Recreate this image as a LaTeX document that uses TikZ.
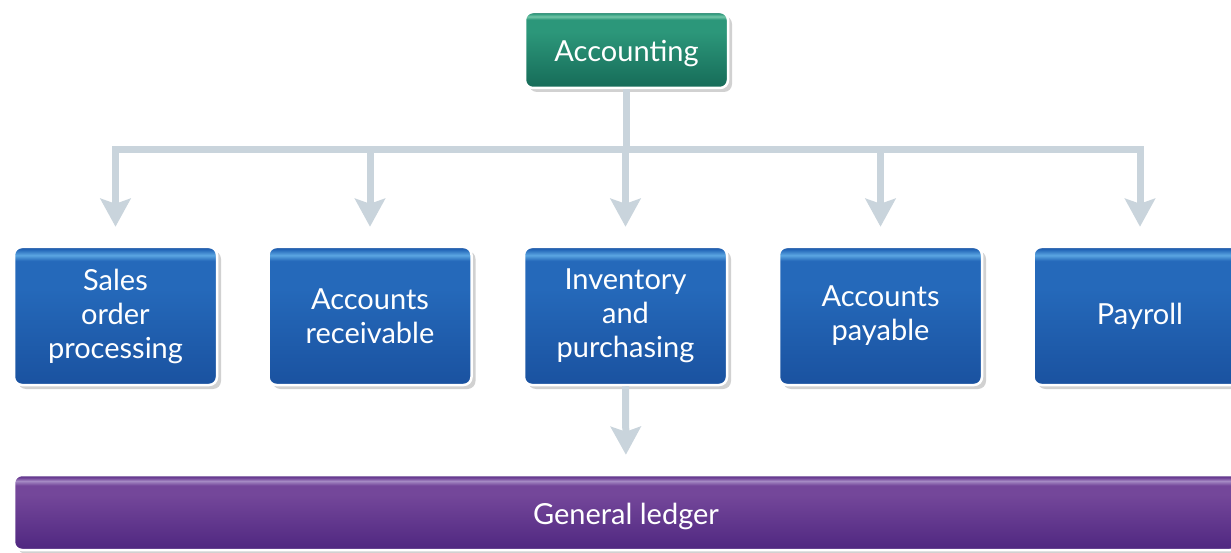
\documentclass[tikz,border=0pt]{standalone}
\usepackage{fontspec}
\setmainfont{Lato}
\usetikzlibrary{arrows.meta,shadows}
\definecolor{linec}{HTML}{C9D4DC}
\definecolor{gB}{HTML}{166B58}
\definecolor{gT}{HTML}{2C977A}
\definecolor{gH}{HTML}{72C6A8}
\definecolor{bB}{HTML}{1A52A0}
\definecolor{bT}{HTML}{2569BA}
\definecolor{bH}{HTML}{5BA6E2}
\definecolor{pB}{HTML}{4F2780}
\definecolor{pT}{HTML}{74479A}
\definecolor{pH}{HTML}{A58AC4}
\pgfdeclareverticalshading{greenshade}{100bp}{color(0bp)=(gB); color(25bp)=(gB); color(62bp)=(gT); color(70bp)=(gT); color(72bp)=(gH); color(74bp)=(gT); color(75bp)=(gB); color(100bp)=(gB)}
\pgfdeclareverticalshading{blueshade}{100bp}{color(0bp)=(bB); color(25bp)=(bB); color(60bp)=(bT); color(70bp)=(bT); color(72bp)=(bH); color(74bp)=(bT); color(75bp)=(bB); color(100bp)=(bB)}
\pgfdeclareverticalshading{purpleshade}{100bp}{color(0bp)=(pB); color(25bp)=(pB); color(62bp)=(pT); color(68bp)=(pT); color(71bp)=(pH); color(73bp)=(pT); color(75bp)=(pB); color(100bp)=(pB)}
\newcommand{\lowtext}[1]{\raisebox{-4pt}[\height][\depth]{#1}}
\tikzset{
  boxbase/.style={rounded corners=8pt, draw=white, line width=2.5pt, text=white,
    font=\fontsize{29}{34}\selectfont, align=center, inner sep=0pt,
    drop shadow={shadow xshift=4pt, shadow yshift=-4pt, fill=black!18, opacity=1}},
  greenbox/.style={boxbase, shading=greenshade, minimum width=203pt, minimum height=76pt},
  bluebox/.style={boxbase, shading=blueshade, minimum width=203pt, minimum height=138pt},
  purplebox/.style={boxbase, shading=purpleshade, minimum width=1224pt, minimum height=75pt},
  conn/.style={draw=linec, line width=7pt},
  arr/.style={conn, -{Stealth[length=28pt, width=30pt, inset=5pt]}, shorten >=19pt}
}
\begin{document}
\begin{tikzpicture}[x=1pt,y=-1pt]
\useasboundingbox (0,0) rectangle (1231,553);
\begin{scope}
\clip (0,0) rectangle (1231,553);
\node[greenbox] (acc) at (626.5,50) {\lowtext{Accounting}};
\node[bluebox] (b1) at (115.5,316) {Sales\\order\\processing};
\node[bluebox] (b2) at (370,316) {Accounts\\receivable};
\node[bluebox] (b3) at (625.5,316) {Inventory\\and\\purchasing};
\node[bluebox] (b4) at (880.5,316) {Accounts\\payable};
\node[bluebox, minimum width=213pt] (b5) at (1140,316) {Payroll};
\node[purplebox] (gl) at (626,512.5) {\lowtext{General ledger}};
\coordinate (bus) at (626.5,150);
\draw[conn] (acc.south) -- (bus);
\draw[conn, line cap=rect] (b1.north |- bus) -- (b5.north |- bus);
\foreach \b in {b1,b2,b3,b4,b5}
  \draw[arr] (\b.north |- bus) -- (\b.north);
\draw[arr] (b3.south) -- (gl.north);
\end{scope}
\end{tikzpicture}
\end{document}
